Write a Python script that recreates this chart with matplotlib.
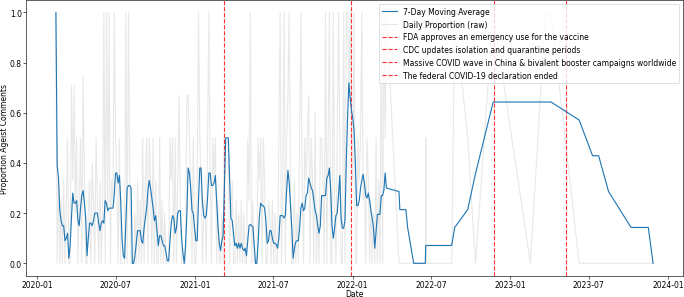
import matplotlib
matplotlib.use("Agg")
import matplotlib.pyplot as plt
import pandas as pd

# dense period, one reading every 3 days
dense_start = "2020-02-14"
dense_end = "2022-03-20"

raw_dense = [
    1.0, 0, 0.33, 0, 0.25, 0, 0.33, 0, 0.2, 0.5, 0, 0, 0.71, 0.33, 0.71, 0.2,
    0.5, 0, 0.25, 0.5, 0, 0.75, 0.33, 0, 0, 0.2, 0.33, 0, 0.4, 0.25, 0, 0.5,
    0.25, 0, 0.33, 0, 0.2, 1.0, 0, 1.0, 0.2, 1.0, 0, 0.33, 0.25, 1.0, 0.5, 0.33,
    0, 0.5, 0, 0, 0, 0, 1.0, 0, 1.0, 0.33, 0, 0, 0, 0.2, 0, 0.33,
    0, 0.25, 0, 0.5, 0, 0.33, 0.5, 0, 0.5, 0.33, 0, 0.5, 0, 0.33, 0, 0,
    0.5, 0, 0.25, 0, 0.2, 0, 0, 0, 0.5, 0.33, 0.5, 0, 0.5, 0, 0.33, 0.67,
    0.25, 0, 0, 0, 0, 0.67, 0.67, 0.5, 0.33, 0, 0.5, 0, 0, 0.33, 1.0, 0.5,
    0.33, 0, 0.2, 0.25, 0, 0.5, 1.0, 0.33, 0, 0.5, 0.33, 0.5, 0, 0.25, 0, 0,
    0.2, 0, 0.5, 0.5, 0.5, 0.5, 0, 0.2, 0.33, 0, 0, 0.25, 0, 0.2, 0, 0.25,
    0, 0.2, 0, 0, 0.5, 0.25, 1.0, 0, 0.25, 0, 0, 0, 0.5, 0.33, 0.5, 0,
    0.5, 0.33, 0, 0, 0.25, 0.2, 0, 0.25, 0, 0.2, 0, 0, 0.5, 1.0, 0, 0.33,
    1.0, 0, 0.5, 0.67, 1.0, 0.25, 0, 0, 0.33, 0, 0.2, 0, 0.5, 1.0, 0.33, 0,
    0.5, 0.33, 0.5, 0.67, 0, 0.5, 0.33, 0, 0.6, 0, 0.2, 0, 0.5, 0.5, 0.33, 0,
    1.0, 0, 0.5, 1.0, 0, 0, 1.0, 0.2, 0, 0.5, 1.0, 0.5, 0, 0, 1.0, 0,
    1.0, 1.0, 0.67, 1.0, 0.5, 0.33, 1.0, 0, 0, 0.5, 0.33, 0.5, 1.0, 0.25, 0.33, 0,
    0.5, 0.33, 0, 0.25, 0, 0.2, 0, 0.5, 0, 0.33, 0, 1.0, 0, 1.0, 0.5, 1.0,
]

ma_dense = [
    1.0, 0.39, 0.34, 0.21, 0.17, 0.15, 0.15, 0.09, 0.1, 0.12, 0.02, 0.07, 0.18, 0.28, 0.24, 0.24,
    0.25, 0.17, 0.15, 0.22, 0.27, 0.29, 0.24, 0.18, 0.03, 0.1, 0.16, 0.16, 0.15, 0.17, 0.2, 0.2,
    0.2, 0.16, 0.13, 0.16, 0.17, 0.16, 0.25, 0.24, 0.21, 0.22, 0.22, 0.22, 0.22, 0.27, 0.36, 0.36,
    0.32, 0.35, 0.25, 0.1, 0.03, 0.02, 0.17, 0.3, 0.31, 0.31, 0.3, 0.0, 0.0, 0.03, 0.08, 0.13,
    0.13, 0.13, 0.09, 0.08, 0.14, 0.18, 0.22, 0.29, 0.33, 0.3, 0.26, 0.22, 0.17, 0.19, 0.13, 0.07,
    0.11, 0.11, 0.09, 0.07, 0.07, 0.04, 0.01, 0.01, 0.09, 0.16, 0.19, 0.18, 0.12, 0.14, 0.2, 0.21,
    0.21, 0.1, 0.04, 0.0, 0.07, 0.19, 0.38, 0.36, 0.3, 0.21, 0.2, 0.14, 0.09, 0.09, 0.25, 0.38,
    0.38, 0.25, 0.19, 0.18, 0.19, 0.26, 0.36, 0.36, 0.31, 0.31, 0.32, 0.35, 0.25, 0.15, 0.08, 0.05,
    0.09, 0.11, 0.3, 0.5, 0.5, 0.5, 0.34, 0.18, 0.17, 0.12, 0.07, 0.08, 0.06, 0.08, 0.06, 0.08,
    0.06, 0.05, 0.06, 0.03, 0.09, 0.15, 0.155, 0.15, 0.145, 0.07, 0.0, 0.0, 0.08, 0.19, 0.24, 0.23,
    0.23, 0.22, 0.17, 0.08, 0.09, 0.13, 0.13, 0.1, 0.08, 0.08, 0.075, 0.06, 0.1, 0.19, 0.19, 0.19,
    0.18, 0.19, 0.29, 0.37, 0.32, 0.23, 0.14, 0.02, 0.06, 0.085, 0.09, 0.09, 0.14, 0.22, 0.24, 0.21,
    0.22, 0.27, 0.28, 0.34, 0.32, 0.3, 0.29, 0.25, 0.21, 0.19, 0.15, 0.12, 0.15, 0.27, 0.27, 0.27,
    0.27, 0.34, 0.35, 0.38, 0.29, 0.15, 0.1, 0.14, 0.19, 0.2, 0.27, 0.35, 0.18, 0.14, 0.14, 0.17,
    0.4, 0.58, 0.72, 0.66, 0.61, 0.58, 0.53, 0.4, 0.23, 0.23, 0.25, 0.3, 0.33, 0.355, 0.32, 0.27,
    0.26, 0.28, 0.25, 0.21, 0.18, 0.14, 0.06, 0.13, 0.195, 0.195, 0.195, 0.27, 0.27, 0.29, 0.36, 0.3,
]

# sparse period, irregular dates
raw_sparse_dates = [
    "2022-04-18", "2022-04-20", "2022-05-04", "2022-05-08", "2022-05-22", "2022-06-18",
    "2022-06-19", "2022-06-20", "2022-08-18", "2022-08-25", "2022-09-24", "2022-10-12",
    "2022-11-22", "2023-02-16", "2023-03-23", "2023-04-05", "2023-06-09", "2023-07-10",
    "2023-07-24", "2023-08-16", "2023-10-07", "2023-11-16", "2023-11-27",
]
raw_sparse = [0, 0, 0, 0, 0, 0, 0.5, 0, 0, 1.0, 0.5, 0, 1.0, 0, 1.0, 1.0, 0, 0, 0, 0, 0, 0, 0]

ma_sparse_dates = [
    "2022-04-18", "2022-04-20", "2022-05-04", "2022-05-08", "2022-05-22", "2022-06-18",
    "2022-06-19", "2022-08-18", "2022-08-25", "2022-09-24", "2022-10-12", "2022-11-22",
    "2023-04-05", "2023-06-09", "2023-07-10", "2023-07-24", "2023-08-16", "2023-10-07",
    "2023-11-16", "2023-11-27",
]
ma_sparse = [0.286, 0.214, 0.214, 0.143, 0.0, 0.0, 0.071, 0.071, 0.143, 0.214, 0.357, 0.643,
             0.643, 0.571, 0.429, 0.429, 0.286, 0.143, 0.143, 0.0]

events = [
    ("2021-03-10", "FDA approves an emergency use for the vaccine"),
    ("2021-12-27", "CDC updates isolation and quarantine periods"),
    ("2022-11-24", "Massive COVID wave in China & bivalent booster campaigns worldwide"),
    ("2023-05-10", "The federal COVID-19 declaration ended"),
]

dense_dates = pd.date_range(dense_start, dense_end, freq="3D")
raw = pd.Series(raw_dense, index=dense_dates)
raw = pd.concat([raw, pd.Series(raw_sparse, index=pd.to_datetime(raw_sparse_dates))])
ma = pd.Series(ma_dense, index=dense_dates)
ma = pd.concat([ma, pd.Series(ma_sparse, index=pd.to_datetime(ma_sparse_dates))])

DPI = 54.58
fig = plt.figure(figsize=(12.55, 5.459), dpi=DPI)
ax = fig.add_subplot(111)
fig.subplots_adjust(left=0.038, right=0.997, bottom=0.071, top=0.997)

ax.plot(ma.index, ma.values, color="#1f77b4", label="7-Day Moving Average", zorder=3)
ax.plot(raw.index, raw.values, color="lightgray", alpha=0.5, label="Daily Proportion (raw)")
for d, lab in events:
    ax.axvline(pd.Timestamp(d), color="red", linestyle="--", alpha=0.8, label=lab)

ax.tick_params(pad=2)
ax.set_xlabel("Date", labelpad=0)
ax.set_ylabel("Proportion Ageist Comments", labelpad=0.5)
ax.legend(loc="upper right")

fig.savefig("out.png", dpi=DPI)
